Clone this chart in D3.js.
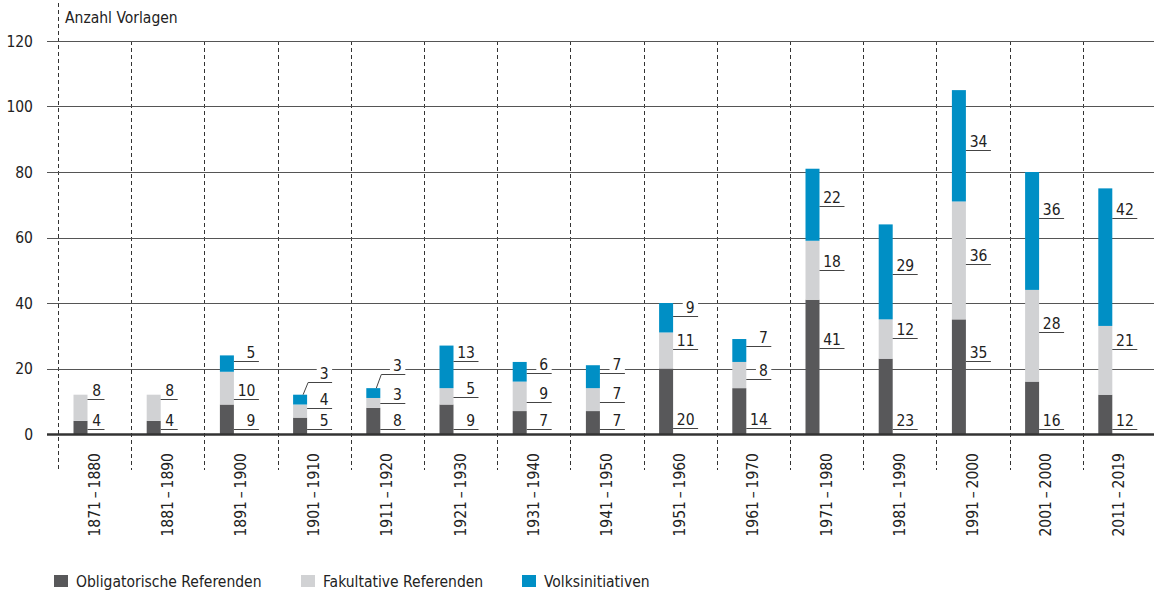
<!DOCTYPE html>
<html>
<head>
<meta charset="utf-8">
<script src="https://cdn.jsdelivr.net/npm/d3@7"></script>
<style>
  body { margin: 0; background: #fff; }
  svg { display: block; font-family: "DejaVu Sans Condensed", "DejaVu Sans", sans-serif; font-stretch: condensed; }
  text { fill: #222; }
</style>
</head>
<body>
<svg width="1154" height="592"></svg>
<script>
// Vorlagen pro Jahrzehnt
let decades = [
  "1871\u2009–\u20091880", "1881\u2009–\u20091890", "1891\u2009–\u20091900", "1901\u2009–\u20091910",
  "1911\u2009–\u20091920", "1921\u2009–\u20091930", "1931\u2009–\u20091940", "1941\u2009–\u20091950",
  "1951\u2009–\u20091960", "1961\u2009–\u20091970", "1971\u2009–\u20091980", "1981\u2009–\u20091990",
  "1991\u2009–\u20092000", "2001\u2009–\u20092000", "2011\u2009–\u20092019"
];
let obligatorisch = [4, 4, 9, 5, 8, 9, 7, 7, 20, 14, 41, 23, 35, 16, 12];
let fakultativ = [8, 8, 10, 4, 3, 5, 9, 7, 11, 8, 18, 12, 36, 28, 21];
let initiativen = [0, 0, 5, 3, 3, 13, 6, 7, 9, 7, 22, 29, 34, 36, 42];
let yTicks = [0, 20, 40, 60, 80, 100, 120];
let seriesNames = ["Obligatorische Referenden", "Fakultative Referenden", "Volksinitiativen"];
let keys = ["obl", "fak", "ini"];
let colors = ["#58585a", "#d1d2d4", "#008fc5"];

// height (in Vorlagen) where each value label sits
let labelObl = [1.5, 1.5, 1.5, 1.5, 1.5, 1.6, 1.6, 1.6, 1.7, 1.7, 26.4, 1.6, 22.3, 1.5, 1.5];
let labelFak = [10.7, 10.7, 10.7, 7.9, 9.5, 11.3, 9.7, 9.7, 25.9, 16.7, 50.1, 29.2, 51.8, 31.0, 25.9];
let labelIni = [0, 0, 22.3, 16.0, 18.2, 22.2, 18.6, 18.6, 36.1, 26.8, 69.5, 48.8, 86.8, 66.0, 66.0];
let labelAt = { obl: labelObl, fak: labelFak, ini: labelIni };

let rows = decades.map(function (d, i) {
  return { decade: d, obl: obligatorisch[i], fak: fakultativ[i], ini: initiativen[i] };
});
let stacked = d3.stack().keys(keys)(rows);

let svg = d3.select("svg");

let x = d3.scaleBand().domain(decades).range([58, 58 + 15 * 73.2]).padding(0);
let y = d3.scaleLinear().domain([0, 120]).range([434, 41]);
let barOff = 15.5, barW = 14;

// vertical dashed separators
svg.append("g")
  .selectAll("line")
  .data(decades)
  .enter()
  .append("line")
  .attr("x1", function (d) { return Math.round(x(d)) + 0.5; })
  .attr("x2", function (d) { return Math.round(x(d)) + 0.5; })
  .attr("y1", function (d, i) { return i === 0 ? 3 : y(120); })
  .attr("y2", 470)
  .attr("stroke", "#333")
  .attr("stroke-dasharray", "4,3");

// horizontal grid + y axis labels
let grid = svg.append("g");
grid.selectAll("line")
  .data(yTicks.filter(function (d) { return d > 0; }))
  .enter()
  .append("line")
  .attr("x1", 47)
  .attr("x2", 1154)
  .attr("y1", function (d) { return Math.round(y(d)) + 0.5; })
  .attr("y2", function (d) { return Math.round(y(d)) + 0.5; })
  .attr("stroke", "#555");

grid.selectAll("text")
  .data(yTicks)
  .enter()
  .append("text")
  .attr("x", 33)
  .attr("y", function (d) { return y(d); })
  .attr("dy", "0.36em")
  .attr("text-anchor", "end")
  .style("font-size", "15.5px")
  .text(function (d) { return d; });

svg.append("text")
  .attr("x", 65)
  .attr("y", 23)
  .style("font-size", "15.5px")
  .text("Anzahl Vorlagen");

// bars
svg.append("g")
  .selectAll("g")
  .data(stacked)
  .enter()
  .append("g")
  .attr("fill", function (d, i) { return colors[i]; })
  .selectAll("rect")
  .data(function (d) { return d; })
  .enter()
  .append("rect")
  .attr("x", function (d) { return x(d.data.decade) + barOff; })
  .attr("width", barW)
  .attr("y", function (d) { return y(d[1]); })
  .attr("height", function (d) { return y(d[0]) - y(d[1]); });

// zero line
svg.append("line")
  .attr("x1", 47)
  .attr("x2", 1154)
  .attr("y1", y(0) + 0.5)
  .attr("y2", y(0) + 0.5)
  .attr("stroke", "#333")
  .attr("stroke-width", 2.6);

// value labels with leader lines
let labels = svg.append("g");
stacked.forEach(function (series) {
  let key = series.key;
  series.forEach(function (d, i) {
    let v = d[1] - d[0];
    if (v <= 0) return;
    let xr = x(d.data.decade) + barOff + barW;
    let end = xr + (i < 2 ? 17 : 25);
    let at = labelAt[key][i];
    let ly = Math.round(y(at)) + 0.5;
    let g = labels.append("g");
    let bg = g.append("rect").attr("fill", "#fff");
    let t = g.append("text")
      .attr("x", end - 3.5)
      .attr("y", ly - 4)
      .attr("text-anchor", "end")
      .style("font-size", "15.5px")
      .text(v);
    let bb = t.node().getBBox();
    bg.attr("x", bb.x - 3)
      .attr("y", bb.y + 1)
      .attr("width", end - bb.x + 3)
      .attr("height", bb.height - 2);
    let path;
    if (at > d[1]) {
      path = d3.line()([[xr - 4, y(d[1])], [xr + 1, ly], [end, ly]]);
    } else {
      path = d3.line()([[xr, ly], [end, ly]]);
    }
    g.append("path")
      .attr("d", path)
      .attr("fill", "none")
      .attr("stroke", "#444");
  });
});

// x axis labels (rotated)
svg.append("g")
  .selectAll("text")
  .data(decades)
  .enter()
  .append("text")
  .attr("transform", function (d) {
    return "translate(" + (x(d) + x.bandwidth() / 2 - 0.5) + ",453) rotate(-90)";
  })
  .attr("dy", "0.36em")
  .attr("text-anchor", "end")
  .style("font-size", "15.5px")
  .text(function (d) { return d; });

// legend
let legendX = [54, 301, 522];
let legend = svg.append("g")
  .selectAll("g")
  .data(seriesNames)
  .enter()
  .append("g")
  .attr("transform", function (d, i) { return "translate(" + legendX[i] + ",575)"; });
legend.append("rect")
  .attr("width", 14)
  .attr("height", 12)
  .attr("fill", function (d, i) { return colors[i]; });
legend.append("text")
  .attr("x", 22)
  .attr("y", 12)
  .style("font-size", "15.5px")
  .text(function (d) { return d; });
</script>
</body>
</html>
